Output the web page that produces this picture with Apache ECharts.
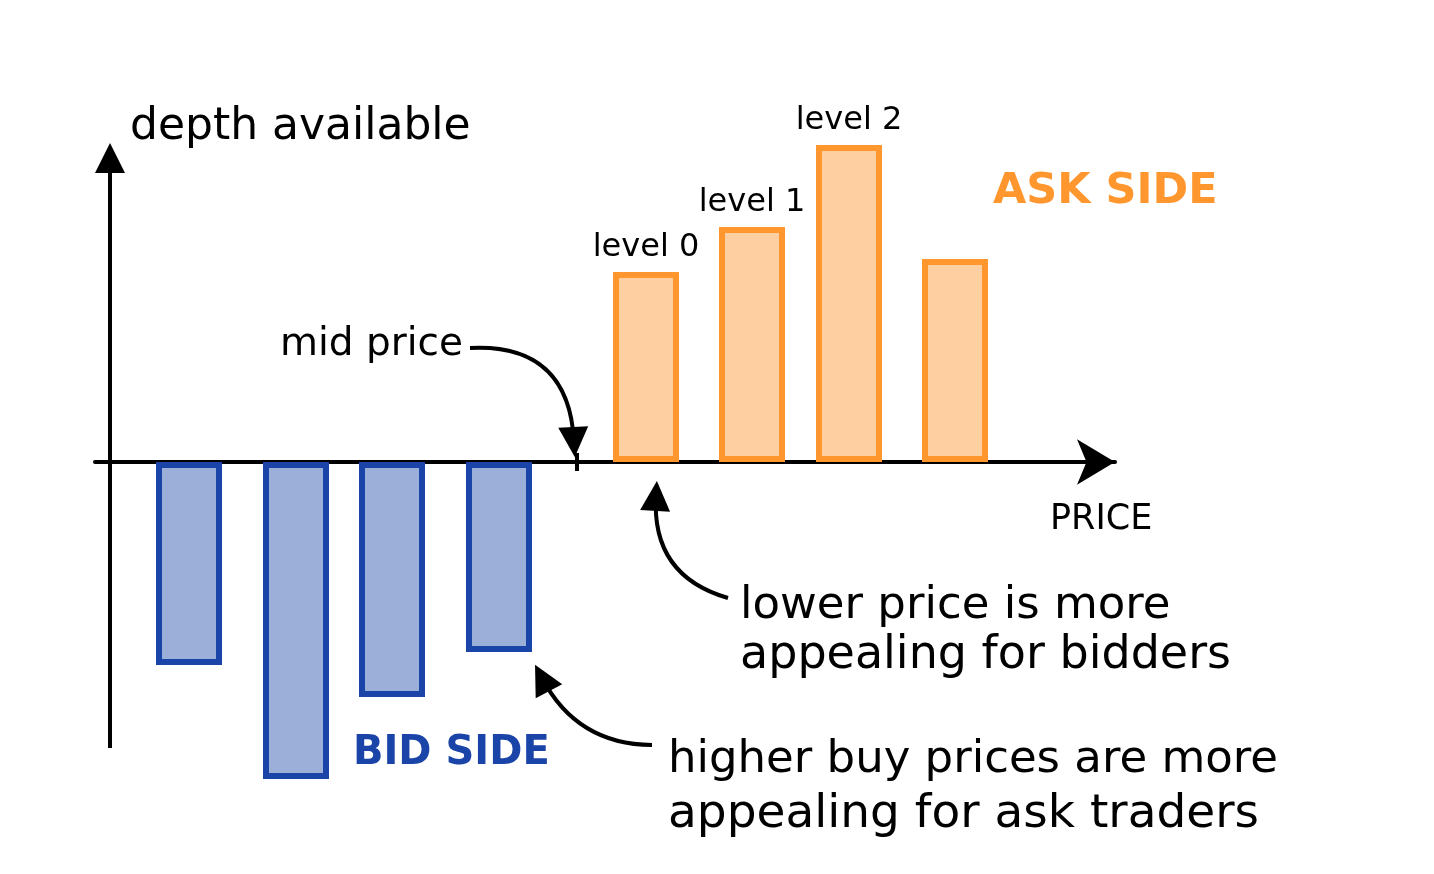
<!DOCTYPE html>
<html><head><meta charset="utf-8">
<script src="https://cdn.jsdelivr.net/npm/echarts@6/dist/echarts.min.js"></script>
<style>html,body{margin:0;padding:0;background:#fff}#c{width:1434px;height:874px}</style>
</head><body><div id="c"></div>
<script>
// ---- data ----
const bidPrices = [7.9, 18.6, 28.2, 38.9];
const bidDepth = [-20.3, -31.7, -23.5, -19.0];
const askPrices = [53.6, 64.2, 73.9, 84.5];
const askDepth = [19.0, 23.5, 31.7, 20.3];
const askLevelLabels = ['level 0', 'level 1', 'level 2', ''];
const midPrice = 46.7;
const xRange = [-1.5, 100.5];
const yRange = [-33, 32];
const yAxisSpan = [-28.6, 30.4];
// annotation arrows: [start, end, curveness]
const arrows = [
  [[36, 11.4], [46.4, 2.0], 0.5],
  [[61.8, -13.6], [54.6, -3.4], 0.4],
  [[54.2, -28.3], [43.2, -21.6], 0.3]
];

const FONT = '"DejaVu Sans", sans-serif';
const BLUE = '#1a44a8', BLUE_FILL = '#9cafd9';
const ORANGE = '#ff962e', ORANGE_FILL = '#fed0a1';

const chart = echarts.init(document.getElementById('c'), null, {renderer: 'canvas'});

function txt(text, x, y, size, opts) {
  opts = opts || {};
  return {
    type: 'text', z: 100,
    style: {
      text: text, x: x, y: y,
      font: (opts.weight || 'normal') + ' ' + size + 'px ' + FONT,
      fill: opts.color || '#000',
      textAlign: opts.align || 'left',
      textVerticalAlign: 'middle'
    }
  };
}

const lineData = [
  {coords: [[0, yAxisSpan[0]], [0, yAxisSpan[1]]], lineStyle: {curveness: 0}}
].concat(arrows.map(a => ({coords: [a[0], a[1]], lineStyle: {curveness: a[2]}})));

chart.setOption({
  animation: false,
  backgroundColor: '#fff',
  grid: {left: 95, right: 319, top: 142, bottom: 82},
  xAxis: {
    type: 'value', min: xRange[0], max: xRange[1],
    axisLine: {show: true, onZero: true, symbol: ['none', 'arrow'], symbolSize: [34, 38],
      lineStyle: {color: '#000', width: 4}},
    axisTick: {show: false}, axisLabel: {show: false}, splitLine: {show: false}
  },
  yAxis: {
    type: 'value', min: yRange[0], max: yRange[1],
    axisLine: {show: false}, axisTick: {show: false}, axisLabel: {show: false}, splitLine: {show: false}
  },
  series: [
    {
      name: 'bid', type: 'bar', barWidth: 66, barGap: '-100%', z: 3,
      data: bidPrices.map((p, i) => [p, bidDepth[i]]),
      itemStyle: {color: BLUE_FILL, borderColor: BLUE, borderWidth: 6}
    },
    {
      name: 'ask', type: 'bar', barWidth: 66, barGap: '-100%', z: 3,
      data: askPrices.map((p, i) => [p, askDepth[i]]),
      itemStyle: {color: ORANGE_FILL, borderColor: ORANGE, borderWidth: 6},
      label: {show: true, position: 'top', distance: 8, fontFamily: FONT, fontSize: 32, color: '#000',
        formatter: p => askLevelLabels[p.dataIndex]}
    },
    {
      name: 'mid', type: 'scatter', z: 4,
      data: [[midPrice, 0]], symbol: 'rect', symbolSize: [4, 18],
      itemStyle: {color: '#000', opacity: 1}
    },
    {
      name: 'annotations', type: 'lines', coordinateSystem: 'cartesian2d', z: 5,
      silent: true,
      symbol: ['none', 'triangle'], symbolSize: 30,
      lineStyle: {color: '#000', width: 4, type: 'solid', opacity: 1},
      data: lineData
    }
  ],
  graphic: [
    txt('depth available', 130, 128, 44),
    txt('mid price', 463, 345, 39, {align: 'right'}),
    txt('ASK SIDE', 993, 192, 43, {weight: 'bold', color: ORANGE}),
    txt('BID SIDE', 353, 754, 40, {weight: 'bold', color: BLUE}),
    txt('PRICE', 1050, 520, 35),
    txt('lower price is more', 740, 606, 45),
    txt('appealing for bidders', 740, 656, 46),
    txt('higher buy prices are more', 668, 760, 45),
    txt('appealing for ask traders', 668, 815, 47)
  ]
});
</script></body></html>
